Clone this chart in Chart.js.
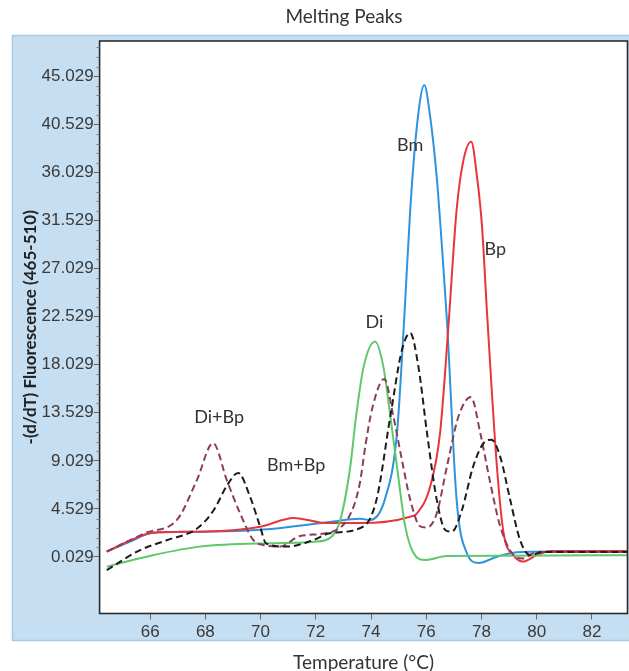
<!DOCTYPE html>
<html>
<head>
<meta charset="utf-8">
<script src="https://cdn.jsdelivr.net/npm/chart.js@4.4.1/dist/chart.umd.min.js"></script>
<style>
  html, body { margin: 0; padding: 0; background: #fff; }
  #wrap { width: 629px; height: 671px; position: relative; }
</style>
</head>
<body>
<div id="wrap"><canvas id="myChart" width="629" height="671"></canvas></div>
<script>
const xTicks = [66, 68, 70, 72, 74, 76, 78, 80, 82];
const yTicks = [0.029, 4.529, 9.029, 13.529, 18.029, 22.529, 27.029, 31.529, 36.029, 40.529, 45.029];

const bmTemp = [64.43, 65.3, 66.1, 67.8, 70.1, 72.5, 73.6, 73.97, 74.5, 74.94, 75.2, 75.42, 75.66, 75.93, 76.14, 76.38, 76.56, 76.75, 77.1, 77.47, 77.9, 78.56, 79.28, 80.5, 83.29];
const bmValues = [0.53, 1.5, 2.3, 2.4, 2.6, 3.3, 3.6, 3.5, 5.4, 11.6, 22.2, 32.5, 40.3, 44.2, 41.3, 35.6, 29.4, 22.2, 5.4, 0.4, -0.53, 0.06, 0.47, 0.55, 0.55];

const bpTemp = [64.43, 65.3, 66.1, 67.8, 70.0, 71.2, 72.4, 73.6, 75.42, 75.66, 76.14, 76.5, 76.8, 77.1, 77.35, 77.63, 77.84, 78.02, 78.2, 78.56, 78.8, 79.16, 79.5, 80.0, 80.5, 83.29];
const bpValues = [0.53, 1.6, 2.3, 2.4, 2.87, 3.68, 3.2, 3.2, 3.8, 4.1, 6.6, 11.6, 21.5, 32.5, 37.2, 38.9, 35.6, 31.0, 23.0, 8.5, 2.3, 0.2, -0.4, 0.2, 0.6, 0.6];

const diTemp = [64.43, 65.3, 66.1, 67.8, 70.1, 71.96, 72.6, 72.9, 73.25, 73.45, 73.73, 74.15, 74.45, 74.7, 74.94, 75.24, 75.54, 75.96, 76.75, 83.29];
const diValues = [-0.88, -0.3, 0.2, 1.0, 1.3, 1.46, 2.0, 3.6, 8.5, 13.0, 17.8, 20.2, 17.8, 13.2, 8.5, 2.9, 0.4, -0.25, 0.12, 0.2];

const diBpTemp = [64.43, 65.85, 66.97, 67.69, 68.28, 68.78, 69.26, 69.74, 70.1, 70.7, 71.43, 72.6, 73.3, 73.6, 73.8, 74.05, 74.48, 74.81, 75.12, 75.42, 75.78, 76.03, 76.38, 76.75, 77.17, 77.62, 77.96, 78.32, 78.68, 79.1, 79.5, 79.9, 80.5, 83.29];
const diBpValues = [0.53, 2.3, 3.5, 7.2, 10.7, 7.2, 4.1, 1.6, 1.15, 1.0, 2.0, 2.4, 4.3, 7.0, 10.5, 14.0, 16.7, 13.2, 9.1, 5.4, 2.9, 2.8, 4.1, 8.5, 13.2, 15.0, 11.6, 6.96, 2.9, 0.4, -0.1, 0.4, 0.5, 0.5];

const bmBpTemp = [64.43, 65.64, 66.6, 67.7, 68.3, 68.78, 69.19, 69.62, 69.98, 70.2, 70.95, 71.9, 72.5, 73.73, 74.2, 74.7, 75.12, 75.42, 75.72, 76.03, 76.38, 76.69, 76.93, 77.29, 77.7, 78.08, 78.36, 78.68, 79.04, 79.4, 79.77, 80.2, 83.29];
const bmBpValues = [-1.2, 0.68, 1.6, 2.7, 4.4, 6.7, 7.9, 5.67, 2.9, 1.3, 1.0, 1.6, 2.25, 2.9, 5.4, 13.2, 19.4, 21.0, 17.8, 11.6, 5.4, 2.56, 2.4, 4.4, 8.5, 10.7, 11.0, 9.4, 5.4, 1.6, 0.2, 0.5, 0.5];

const peakLabels = ["Bm", "Bp", "Di", "Di+Bp", "Bm+Bp"];
const peakLabelTemp = [75.42, 78.5, 74.12, 68.5, 71.29];
const peakLabelValue = [38.6, 28.8, 22.0, 13.1, 8.6];

function toPoints(temps, values) {
  let points = [];
  temps.forEach((t, i) => {
    points.push({ x: t, y: values[i] });
  });
  return points;
}

const panelPlugin = {
  id: "panel",
  beforeDraw(chart) {
    const ctx = chart.ctx;
    const area = chart.chartArea;
    ctx.save();
    ctx.fillStyle = "#ffffff";
    ctx.fillRect(0, 0, chart.width, chart.height);
    ctx.fillStyle = "#c6def1";
    ctx.fillRect(12, 35, 617, 606);
    ctx.strokeStyle = "#a8c8e4";
    ctx.lineWidth = 1.5;
    ctx.strokeRect(12.5, 35.5, 620, 605);
    ctx.fillStyle = "#ffffff";
    ctx.fillRect(area.left, area.top, area.right - area.left, area.bottom - area.top);
    ctx.restore();
  },
  afterDraw(chart) {
    const ctx = chart.ctx;
    const area = chart.chartArea;
    const yScale = chart.scales.y;
    const xScale = chart.scales.x;
    ctx.save();
    ctx.strokeStyle = "#2b2b2b";
    ctx.lineWidth = 1.6;
    ctx.strokeRect(area.left, area.top, area.right - area.left, area.bottom - area.top);

    // minor ticks on the y axis
    ctx.strokeStyle = "#777";
    ctx.lineWidth = 1;
    for (let i = 0; i < yTicks.length; i++) {
      for (let k = 1; k < 5; k++) {
        let v = yTicks[i] + k * 0.9;
        if (v > yScale.max) continue;
        let py = Math.round(yScale.getPixelForValue(v)) + 0.5;
        ctx.beginPath();
        ctx.moveTo(area.left - 3, py);
        ctx.lineTo(area.left, py);
        ctx.stroke();
      }
    }

    ctx.fillStyle = "#333";
    ctx.font = "19px Lato";
    ctx.textAlign = "center";
    ctx.textBaseline = "middle";
    ctx.fillText("Melting Peaks", 344, 17);

    ctx.font = "18px Lato";
    peakLabels.forEach((txt, i) => {
      ctx.fillText(txt, xScale.getPixelForValue(peakLabelTemp[i]), yScale.getPixelForValue(peakLabelValue[i]));
    });
    ctx.restore();
  },
};

const ctx = document.getElementById("myChart");
const chart = new Chart(ctx, {
  type: "line",
  data: {
    datasets: [
      {
        label: "Bm+Bp",
        data: toPoints(bmBpTemp, bmBpValues),
        borderColor: "#1c1c1c",
        borderDash: [7, 4],
      },
      {
        label: "Di+Bp",
        data: toPoints(diBpTemp, diBpValues),
        borderColor: "#8e3d58",
        borderDash: [7, 4],
      },
      {
        label: "Di",
        data: toPoints(diTemp, diValues),
        borderColor: "#5ec86c",
      },
      {
        label: "Bp",
        data: toPoints(bpTemp, bpValues),
        borderColor: "#e8353c",
      },
      {
        label: "Bm",
        data: toPoints(bmTemp, bmValues),
        borderColor: "#2f93dc",
      },
    ],
  },
  options: {
    responsive: false,
    animation: false,
    layout: { padding: { top: 41, right: 1.5, left: 0, bottom: 0 } },
    elements: {
      point: { radius: 0 },
      line: { borderWidth: 2, cubicInterpolationMode: "monotone" },
    },
    plugins: {
      legend: { display: false },
      tooltip: { enabled: false },
    },
    scales: {
      x: {
        type: "linear",
        min: 64.17,
        max: 83.29,
        afterBuildTicks: (scale) => {
          scale.ticks = xTicks.map((v) => ({ value: v }));
        },
        afterFit: (scale) => {
          scale.height = 57.5;
        },
        ticks: {
          autoSkip: false,
          maxRotation: 0,
          padding: 3,
          color: "#3a3a3a",
          font: { family: "Liberation Sans", size: 17 },
        },
        grid: {
          drawOnChartArea: false,
          tickLength: 6,
          color: "#666",
        },
        border: { display: false },
        title: {
          display: true,
          text: "Temperature (°C)",
          color: "#333",
          font: { family: "Lato", size: 19, lineHeight: 0.82 },
          padding: 0,
        },
      },
      y: {
        min: -5.26,
        max: 48.33,
        afterBuildTicks: (scale) => {
          scale.ticks = yTicks.map((v) => ({ value: v }));
        },
        afterFit: (scale) => {
          scale.width = 99.6;
        },
        ticks: {
          autoSkip: false,
          padding: 0,
          color: "#3a3a3a",
          font: { family: "Liberation Sans", size: 17 },
          callback: (value) => value.toFixed(3),
        },
        grid: {
          drawOnChartArea: false,
          tickLength: 6,
          color: "#666",
        },
        border: { display: false },
        title: {
          display: true,
          text: "-(d/dT) Fluorescence (465-510)",
          color: "#222",
          font: { family: "Lato", size: 17, weight: "bold", lineHeight: 1.2 },
          padding: { top: 20, bottom: 0 },
        },
      },
    },
  },
  plugins: [panelPlugin],
});
</script>
</body>
</html>
